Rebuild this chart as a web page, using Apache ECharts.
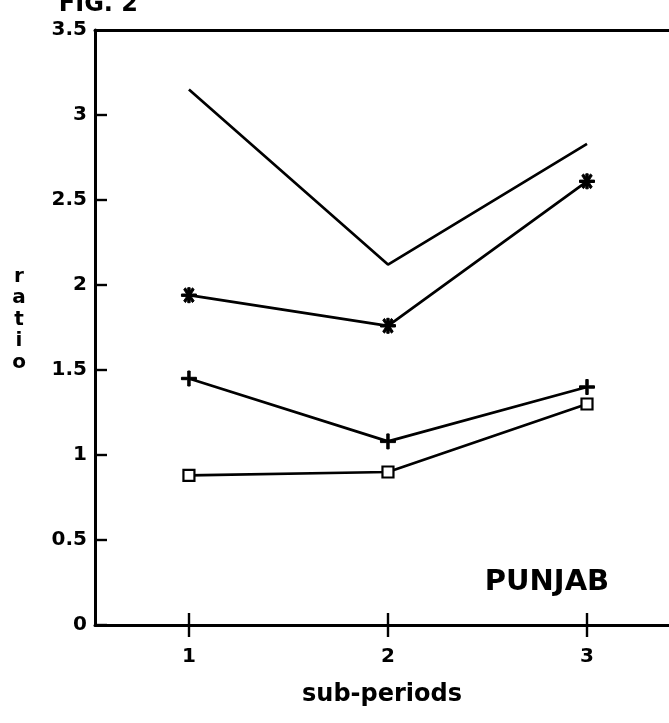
<!DOCTYPE html>
<html>
<head>
<meta charset="utf-8">
<title>PUNJAB ratio by sub-period</title>
<script src="https://cdn.jsdelivr.net/npm/echarts@6/dist/echarts.min.js"></script>
<style>
  html, body { margin: 0; padding: 0; background: #fff; }
  #chart { width: 669px; height: 723px; }
</style>
</head>
<body>
<div id="chart"></div>
<script>
// sub-periods on the x axis
var periods = [1, 2, 3];
// the four ratio series
var plainLine = [3.15, 2.12, 2.83];
var starLine = [1.94, 1.76, 2.61];
var plusLine = [1.45, 1.08, 1.40];
var squareLine = [0.88, 0.90, 1.30];
var yTicks = [0, 0.5, 1, 1.5, 2, 2.5, 3, 3.5];

var ink = '#000';
var boldFont = 'DejaVu Sans';
var xMin = 0.528, xMax = 3.412;

function pairs(vals) {
  return periods.map(function (p, i) { return [p, vals[i]]; });
}

// marker shapes
var starPath = 'path://M0,4.2H10V5.8H0Z M4.2,0H5.8V10H4.2Z M1.5,1.2L2.7,0.1L8.5,8.8L7.3,9.9Z M7.3,0.1L8.5,1.2L2.7,9.9L1.5,8.8Z';
var plusPath = 'path://M4.2,0H5.8V4.2H10V5.8H5.8V10H4.2V5.8H0V4.2H4.2Z';

function makeSeries(name, vals, symbol, size, extra) {
  var s = {
    name: name,
    type: 'line',
    data: pairs(vals),
    xAxisIndex: 0,
    symbol: symbol,
    symbolSize: size,
    showSymbol: symbol !== 'none',
    lineStyle: { color: ink, width: 2.7 },
    itemStyle: { color: ink, borderColor: ink, borderWidth: 1 },
    emphasis: { disabled: true },
    z: 3
  };
  if (extra) Object.assign(s.itemStyle, extra);
  return s;
}

var chart = echarts.init(document.getElementById('chart'));

var hiddenAxis = {
  type: 'value',
  min: xMin,
  max: xMax,
  splitLine: { show: false },
  axisLabel: { show: false }
};

var option = {
  backgroundColor: '#fff',
  animation: false,
  grid: { left: 95, right: 0, top: 30, bottom: 98 },
  xAxis: [{
    type: 'value',
    min: xMin,
    max: xMax,
    position: 'bottom',
    name: 'sub-periods',
    nameLocation: 'middle',
    nameGap: 58,
    nameTextStyle: { color: ink, fontFamily: boldFont, fontWeight: 'bold', fontSize: 24 },
    splitLine: { show: false },
    axisLine: { show: true, onZero: false, lineStyle: { color: ink, width: 3 } },
    axisTick: { show: true, inside: false, length: 12, customValues: periods, lineStyle: { color: ink, width: 2.4 } },
    axisLabel: { customValues: periods, margin: 22, color: ink, fontFamily: boldFont, fontWeight: 'bold', fontSize: 20 }
  }, Object.assign({}, hiddenAxis, {
    // the inner half of the crossing ticks
    position: 'bottom',
    axisLine: { show: false, onZero: false },
    axisTick: { show: true, inside: true, length: 12, customValues: periods, lineStyle: { color: ink, width: 2.4 } }
  }), Object.assign({}, hiddenAxis, {
    // top frame line
    position: 'top',
    axisLine: { show: true, onZero: false, lineStyle: { color: ink, width: 3 } },
    axisTick: { show: false }
  })],
  yAxis: {
    type: 'value',
    min: 0,
    max: 3.5,
    interval: 0.5,
    splitLine: { show: false },
    axisLine: { show: true, lineStyle: { color: ink, width: 3 } },
    axisTick: { show: true, inside: true, length: 12, customValues: yTicks.slice(0, -1), lineStyle: { color: ink, width: 2.4 } },
    axisLabel: { margin: 8, color: ink, fontFamily: boldFont, fontWeight: 'bold', fontSize: 20 }
  },
  graphic: [{
    // title line, mostly cut off at the top edge of the scan
    type: 'text',
    style: {
      x: 138, y: 17, text: 'FIG. 2', align: 'right', verticalAlign: 'bottom',
      fill: ink, font: 'bold 24px ' + boldFont
    }
  }, {
    type: 'text',
    style: {
      x: 19, y: 266, text: 'r\na\nt\ni\no', align: 'center', verticalAlign: 'top',
      lineHeight: 21.5, fill: ink, font: 'bold 20px ' + boldFont
    }
  }, {
    type: 'text',
    style: {
      x: 547, y: 582, text: 'PUNJAB', align: 'center', verticalAlign: 'middle',
      fill: ink, font: 'bold 29px ' + boldFont
    }
  }],
  series: [
    makeSeries('plain', plainLine, 'none', 0),
    makeSeries('star', starLine, starPath, 15),
    makeSeries('plus', plusLine, plusPath, 15),
    makeSeries('square', squareLine, 'rect', 11, { color: '#fff', borderWidth: 2.2 })
  ]
};

chart.setOption(option);
window.addEventListener('resize', function () { chart.resize(); });
</script>
</body>
</html>
